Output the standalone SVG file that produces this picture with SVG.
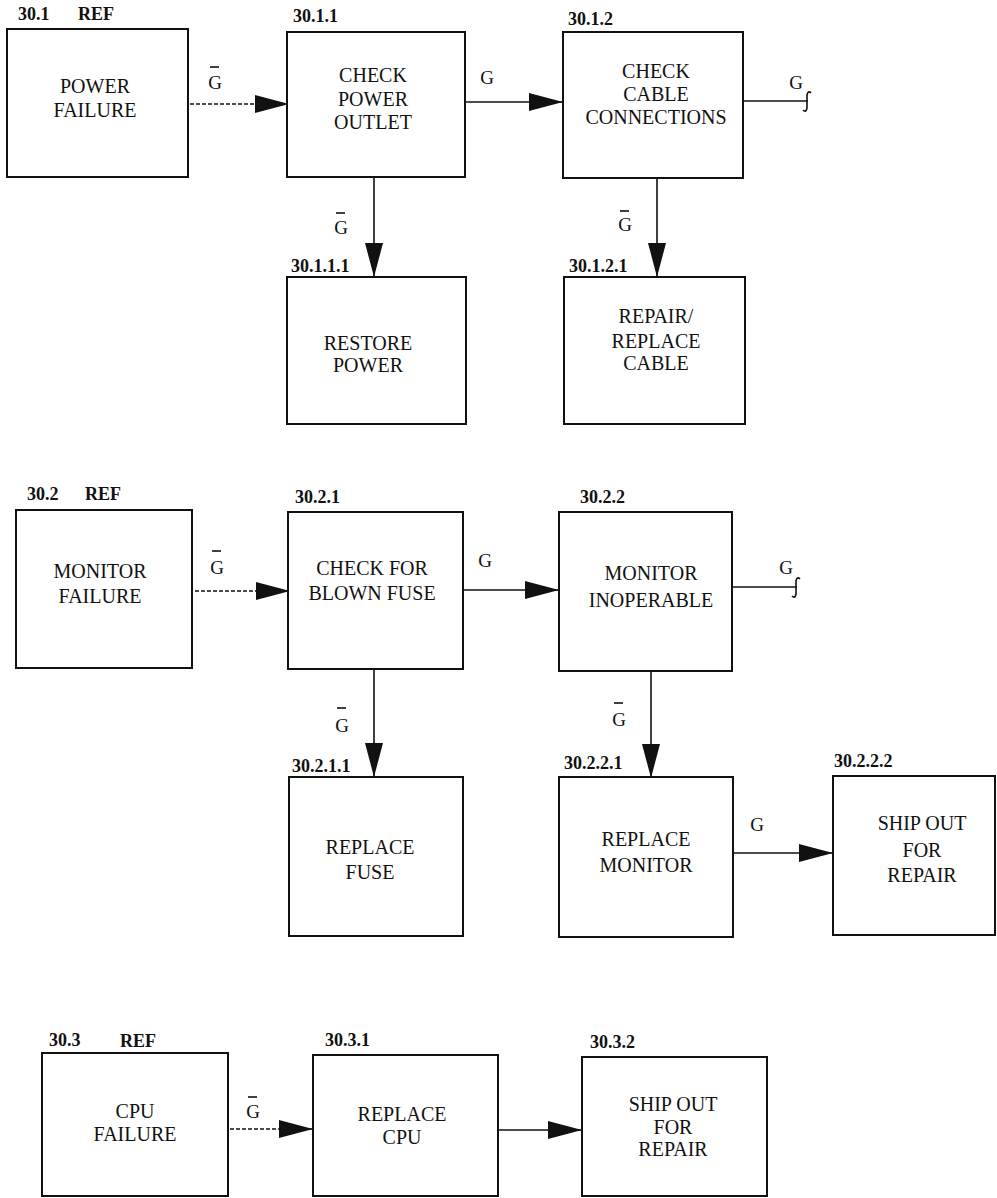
<svg xmlns="http://www.w3.org/2000/svg" width="997" height="1198" viewBox="0 0 997 1198">
<style>
.box{fill:#fff;stroke:#111;stroke-width:2}
.t{font-family:"Liberation Serif","DejaVu Serif","Noto Serif",serif;font-size:20px;fill:#111;text-anchor:middle}
.lb{font-family:"Liberation Serif","DejaVu Serif","Noto Serif",serif;font-size:18px;fill:#111;font-weight:600}
.g{font-family:"Liberation Serif","DejaVu Serif","Noto Serif",serif;font-size:19px;fill:#111;text-anchor:middle}
.ln{stroke:#111;stroke-width:1.6;fill:none}
.dash{stroke:#111;stroke-width:1.6;fill:none;stroke-dasharray:4 2}
.bar{stroke:#111;stroke-width:1.6}
</style>
<defs>
<marker id="ah" markerUnits="userSpaceOnUse" markerWidth="34" markerHeight="20" refX="34" refY="10" orient="auto">
<path d="M0,1 L34,10 L0,19 z" fill="#111"/>
</marker>
</defs>
<rect width="997" height="1198" fill="#fff"/>

<g id="connectors">
<path class="dash" d="M190,104 H289" marker-end="url(#ah)"/>
<line class="bar" x1="290" y1="95" x2="290" y2="113"/>
<path class="ln" d="M465,102 H563" marker-end="url(#ah)"/>
<path class="ln" d="M743,101 H808"/>
<path class="ln" d="M811,93 q-3,-3 -4,2 v13 q-1,5 -4,2"/>
<path class="ln" d="M374,177 V277" marker-end="url(#ah)"/>
<path class="ln" d="M657,178 V277" marker-end="url(#ah)"/>
<path class="dash" d="M195,591 H290" marker-end="url(#ah)"/>
<line class="bar" x1="291" y1="582" x2="291" y2="600"/>
<path class="ln" d="M463,590 H559" marker-end="url(#ah)"/>
<path class="ln" d="M732,587 H797"/>
<path class="ln" d="M800,579 q-3,-3 -4,2 v13 q-1,5 -4,2"/>
<path class="ln" d="M374,669 V777" marker-end="url(#ah)"/>
<path class="ln" d="M651,672 V778" marker-end="url(#ah)"/>
<path class="ln" d="M733,853 H833" marker-end="url(#ah)"/>
<path class="dash" d="M230,1129 H313" marker-end="url(#ah)"/>
<line class="bar" x1="314" y1="1120" x2="314" y2="1138"/>
<path class="ln" d="M498,1130 H582" marker-end="url(#ah)"/>
<text class="g" x="215" y="89">G</text><line class="bar" x1="210" y1="67" x2="219" y2="67"/>
<text class="g" x="487" y="84">G</text>
<text class="g" x="796" y="89">G</text>
<text class="g" x="341" y="234">G</text><line class="bar" x1="336" y1="213" x2="345" y2="213"/>
<text class="g" x="625" y="231">G</text><line class="bar" x1="620" y1="211" x2="629" y2="211"/>
<text class="g" x="217" y="574">G</text><line class="bar" x1="212" y1="551" x2="221" y2="551"/>
<text class="g" x="485" y="567">G</text>
<text class="g" x="786" y="574">G</text>
<text class="g" x="342" y="732">G</text><line class="bar" x1="337" y1="708" x2="346" y2="708"/>
<text class="g" x="619" y="726">G</text><line class="bar" x1="614" y1="703" x2="623" y2="703"/>
<text class="g" x="757" y="831">G</text>
<text class="g" x="253" y="1118">G</text><line class="bar" x1="248" y1="1097" x2="257" y2="1097"/>
</g>

<g id="n30_1">
<rect class="box" x="7" y="29" width="181" height="148"/>
<text class="lb" x="18" y="20">30.1</text><text class="lb" x="78" y="20">REF</text>
<text class="t" x="95" y="93">POWER</text><text class="t" x="95" y="117">FAILURE</text>
</g>
<g id="n30_1_1">
<rect class="box" x="287" y="32" width="178" height="145"/>
<text class="lb" x="293" y="22">30.1.1</text>
<text class="t" x="373" y="82">CHECK</text><text class="t" x="373" y="106">POWER</text><text class="t" x="373" y="129">OUTLET</text>
</g>
<g id="n30_1_2">
<rect class="box" x="563" y="32" width="180" height="146"/>
<text class="lb" x="568" y="25">30.1.2</text>
<text class="t" x="656" y="78">CHECK</text><text class="t" x="656" y="101">CABLE</text><text class="t" x="656" y="124">CONNECTIONS</text>
</g>
<g id="n30_1_1_1">
<rect class="box" x="287" y="277" width="179" height="147"/>
<text class="lb" x="291" y="272">30.1.1.1</text>
<text class="t" x="368" y="350">RESTORE</text><text class="t" x="368" y="372">POWER</text>
</g>
<g id="n30_1_2_1">
<rect class="box" x="564" y="277" width="181" height="147"/>
<text class="lb" x="569" y="272">30.1.2.1</text>
<text class="t" x="656" y="323">REPAIR/</text><text class="t" x="656" y="348">REPLACE</text><text class="t" x="656" y="370">CABLE</text>
</g>

<g id="n30_2">
<rect class="box" x="16" y="510" width="176" height="158"/>
<text class="lb" x="27" y="500">30.2</text><text class="lb" x="85" y="500">REF</text>
<text class="t" x="100" y="578">MONITOR</text><text class="t" x="100" y="603">FAILURE</text>
</g>
<g id="n30_2_1">
<rect class="box" x="288" y="512" width="175" height="157"/>
<text class="lb" x="295" y="503">30.2.1</text>
<text class="t" x="372" y="575">CHECK FOR</text><text class="t" x="372" y="600">BLOWN FUSE</text>
</g>
<g id="n30_2_2">
<rect class="box" x="559" y="512" width="173" height="159"/>
<text class="lb" x="580" y="503">30.2.2</text>
<text class="t" x="651" y="580">MONITOR</text><text class="t" x="651" y="607">INOPERABLE</text>
</g>
<g id="n30_2_1_1">
<rect class="box" x="289" y="777" width="174" height="159"/>
<text class="lb" x="292" y="772">30.2.1.1</text>
<text class="t" x="370" y="854">REPLACE</text><text class="t" x="370" y="879">FUSE</text>
</g>
<g id="n30_2_2_1">
<rect class="box" x="559" y="777" width="174" height="160"/>
<text class="lb" x="564" y="769">30.2.2.1</text>
<text class="t" x="646" y="846">REPLACE</text><text class="t" x="646" y="872">MONITOR</text>
</g>
<g id="n30_2_2_2">
<rect class="box" x="833" y="776" width="162" height="159"/>
<text class="lb" x="834" y="767">30.2.2.2</text>
<text class="t" x="922" y="830">SHIP OUT</text><text class="t" x="922" y="857">FOR</text><text class="t" x="922" y="882">REPAIR</text>
</g>

<g id="n30_3">
<rect class="box" x="42" y="1053" width="186" height="143"/>
<text class="lb" x="49" y="1046">30.3</text><text class="lb" x="120" y="1047">REF</text>
<text class="t" x="135" y="1118">CPU</text><text class="t" x="135" y="1141">FAILURE</text>
</g>
<g id="n30_3_1">
<rect class="box" x="313" y="1055" width="185" height="141"/>
<text class="lb" x="325" y="1046">30.3.1</text>
<text class="t" x="402" y="1121">REPLACE</text><text class="t" x="402" y="1144">CPU</text>
</g>
<g id="n30_3_2">
<rect class="box" x="582" y="1057" width="185" height="139"/>
<text class="lb" x="590" y="1048">30.3.2</text>
<text class="t" x="673" y="1111">SHIP OUT</text><text class="t" x="673" y="1134">FOR</text><text class="t" x="673" y="1156">REPAIR</text>
</g>
</svg>
